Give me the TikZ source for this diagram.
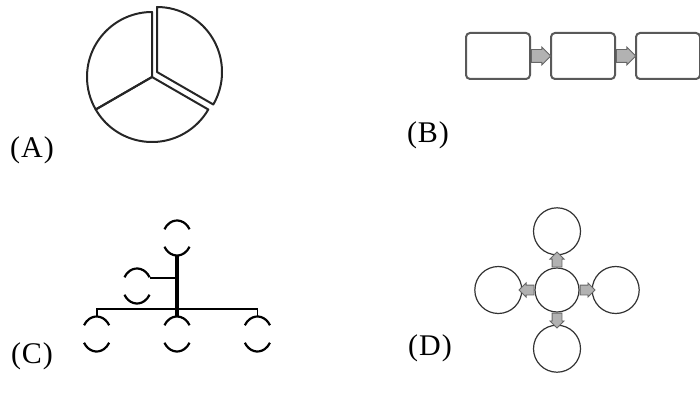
\documentclass[tikz,border=0pt]{standalone}
\usepackage{fontspec}
\setmainfont{Liberation Serif}
\usetikzlibrary{positioning,shapes.geometric,shapes.arrows}

\begin{document}
\begin{tikzpicture}[x=1pt,y=1pt,
        tag/.style={font=\fontsize{30}{32}\selectfont},
        slice/.style={draw=black!85,line width=2pt,line join=round},
        box/.style={draw=black!65,line width=2pt,rounded corners=4pt,minimum width=64pt,minimum height=46pt},
        fat/.style={single arrow,draw=black!60,fill=black!30,line width=0.9pt,inner sep=6pt,minimum height=19pt,single arrow head extend=2.5pt},
        tiny/.style={single arrow,draw=black!60,fill=black!30,line width=0.9pt,inner sep=4.5pt,minimum height=12pt,single arrow head extend=2pt},
        disc/.style={circle,draw=black!80,line width=1.2pt,inner sep=0pt},
        ring/.style={ellipse,inner sep=0pt,minimum width=29pt,minimum height=35pt},
        bar/.style={line width=1.8pt}]
    \useasboundingbox (0,0) rectangle (700,397);

    % (A) pie
    \draw[slice] (152,320) -- ++(90:65) arc[start angle=90,end angle=210,radius=65] -- cycle;
    \draw[slice] (152,320) -- ++(210:65) arc[start angle=210,end angle=330,radius=65] -- cycle;
    \draw[slice,shift={(5,5)}] (152,320) -- ++(330:65) arc[start angle=330,end angle=450,radius=65] -- cycle;
    \node[tag] (la) at (32,247) {(\kern1pt A\kern1pt)};

    % (B) chain
    \node[box] (b1) at (498,341) {};
    \node[box,right=19pt of b1] (b2) {};
    \node[box,right=19pt of b2] (b3) {};
    \node[fat,right=0pt of b1] (f1) {};
    \node[fat,right=0pt of b2] (f2) {};
    \node[tag] (lb) at (428,262) {(\kern1pt B\kern1pt)};

    % (C) tree
    \node[ring] (ct) at (177,159) {};
    \node[ring] (cl) at (137,111) {};
    \node[ring] (c2) at (177,63) {};
    \node[ring,left=51pt of c2] (c1) {};
    \node[ring,right=51pt of c2] (c3) {};
    \foreach \n in {ct,cl,c1,c2,c3} {
        \draw[line width=2.2pt] (\n.center) ++(30:14.5 and 17.5) arc[start angle=30,end angle=150,x radius=14.5,y radius=17.5];
        \draw[line width=2.2pt] (\n.center) ++(210:14.5 and 17.5) arc[start angle=210,end angle=330,x radius=14.5,y radius=17.5];
    }
    \draw[line width=4.5pt] (ct.south) -- (c2.north);
    \draw[bar] (cl.30) -- (cl.30 -| ct.south);
    \draw[bar] (c1.north) -- ++(0,7) -| (c3.north);
    \node[tag] (lc) at (32,41) {(\kern1pt C\kern1pt)};

    % (D) hub
    \node[disc,minimum size=44pt] (dc) at (557,107) {};
    \node[disc,minimum size=47pt,above=12pt of dc] (dn) {};
    \node[disc,minimum size=47pt,below=12pt of dc] (ds) {};
    \node[disc,minimum size=47pt,left=12pt of dc] (dw) {};
    \node[disc,minimum size=47pt,right=12pt of dc] (de) {};
    \node[tiny,shape border rotate=90,above=0pt of dc] (tn) {};
    \node[tiny,shape border rotate=270,below=0pt of dc] (ts) {};
    \node[tiny,shape border rotate=180,left=0pt of dc] (tw) {};
    \node[tiny,right=0pt of dc] (te) {};
    \node[tag] (ld) at (430,49) {(\kern1pt D\kern1pt)};
\end{tikzpicture}
\end{document}
